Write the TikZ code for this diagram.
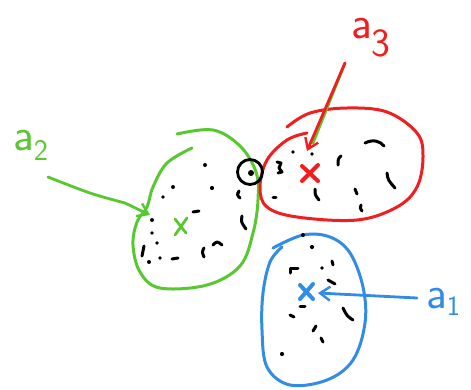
\documentclass[tikz,border=0pt]{standalone}
\usetikzlibrary{arrows.meta}
\definecolor{pgreen}{RGB}{88,200,48}
\definecolor{pred}{RGB}{240,30,30}
\definecolor{pblue}{RGB}{50,140,230}
\begin{document}
\begin{tikzpicture}[x=1pt,y=-1pt,line cap=round,line join=round,
  blob/.style={line width=3pt},
  dots/.style={line width=3pt,black},
  cross/.style={line width=4pt},
  handarrow/.style={line width=2.8pt,-{Straight Barb[length=10pt,width=14pt,line width=2.4pt]}},
  lbl/.style={inner sep=0pt,anchor=base west,font=\sffamily\fontsize{46}{46}\selectfont}]
\useasboundingbox (0,0) rectangle (471,389);
% centres
\coordinate (cg) at (180,226);
\coordinate (cr) at (310,173);
\coordinate (cb) at (307,292);
% green blob
\draw[blob,pgreen] plot[smooth,tension=0.6] coordinates{(192,148) (167,163) (153,187) (147,207) (137,222) (133,245) (140,272) (160,288) (207,285) (240,266) (253,233) (258,200) (256,172) (240,146) (213,130) (177,134)};
% red blob
\draw[blob,pred] plot[smooth,tension=0.6] coordinates{(307,133) (287,140) (267,160) (260,187) (267,207) (297,217) (357,220) (397,207) (417,187) (423,157) (417,133) (387,112) (347,108) (310,113) (287,127)};
% blue blob
\draw[blob,pblue] plot[smooth,tension=0.6] coordinates{(273,248) (303,235) (330,237) (350,253) (363,287) (365,323) (353,360) (327,380) (290,385) (267,367) (262,330) (263,293) (270,262) (282,247)};
% crosses
\draw[pgreen,line width=2.8pt] (175,219) -- (186,233) (187,218) -- (175,235);
\draw[cross,pred] (302,166) -- (318,181) (318,165) -- (302,181);
\draw[cross,pblue] (300,285) -- (313,299) (313,284) -- (300,299);
% black circle
\node[draw,circle,line width=2.8pt,minimum size=25pt,inner sep=0pt] (circ) at (250,172) {};
\fill (251,173) circle (3pt);
% labels
\node[lbl,pgreen] (l2) at (13,150) {a\raisebox{-10pt}{\fontsize{30}{30}\selectfont 2}};
\node[lbl,pred] (l3) at (351,38) {a\raisebox{-18pt}{\fontsize{40}{40}\selectfont 3}};
\node[lbl,pblue] (l1) at (426,308) {a\raisebox{-7pt}{\fontsize{28}{28}\selectfont 1}};
% arrows
\coordinate (s2) at (48,177);
\coordinate (t2) at (150,215);
\draw[handarrow,pgreen] plot[smooth] coordinates{(48,177) (90,193) (125,203)} -- (t2);
\coordinate (s3) at (345,63);
\coordinate (t3) at (307,151);
\draw[line width=2.8pt,pgreen] (s3) -- (313,143);
\draw[handarrow,pred] (s3) -- (t3);
\coordinate (s1) at (417,298);
\coordinate (t1) at (318,293);
\draw[handarrow,pblue] (s1) -- (t1);
% black speckles
\begin{scope}[dots]
% green interior
\fill (205,165) circle (2pt);
\fill (173,187) circle (2pt);
\fill (163,197) circle (1.9pt);
\fill (212,188) circle (2.1pt);
\draw (193,212) -- (199,211);
\draw (239,191) .. controls (237,195) .. (240,198);
\draw (242,216) .. controls (241,222) .. (246,229);
\fill (152,220) circle (2pt);
\fill (152,233) circle (1.9pt);
\fill (157,243) circle (1.9pt);
\draw (144,246) -- (142,256);
\fill (149,262) circle (2pt);
\fill (160,258) circle (1.9pt);
\draw (172,259) -- (178,258);
\draw (204,248) .. controls (202,252) .. (204,257);
\draw (213,245) .. controls (217,241) .. (222,245);
\fill (238,193) circle (1.8pt);
% red interior
\fill (293,152) circle (1.8pt);
\fill (312,154) circle (1.8pt);
\draw (277,162) -- (281,163) -- (279,168) -- (282,172) -- (278,173);
\draw (273,197) -- (276,197);
\draw (341,156) .. controls (338,159) .. (338,165);
\draw (365,143) .. controls (373,139) and (380,141) .. (384,146);
\draw (315,189) .. controls (315,195) .. (319,200);
\draw (355,189) -- (357,194);
\draw (361,205) .. controls (360,208) .. (362,211);
\draw (387,173) .. controls (388,180) .. (395,188);
% blue interior
\fill (303,235) circle (2pt);
\fill (312,247) circle (2.1pt);
\draw (290,273) -- (290,268) -- (298,268);
\fill (322,268) circle (1.8pt);
\draw (332,261) -- (333,265);
\draw (328,280) -- (335,284);
\draw (300,306) -- (305,306);
\draw (290,315) -- (294,317);
\draw (343,308) .. controls (347,316) .. (353,320);
\draw (316,326) -- (313,331);
\draw (321,338) -- (323,342);
\fill (282,354) circle (2.1pt);
\end{scope}
\end{tikzpicture}
\end{document}
